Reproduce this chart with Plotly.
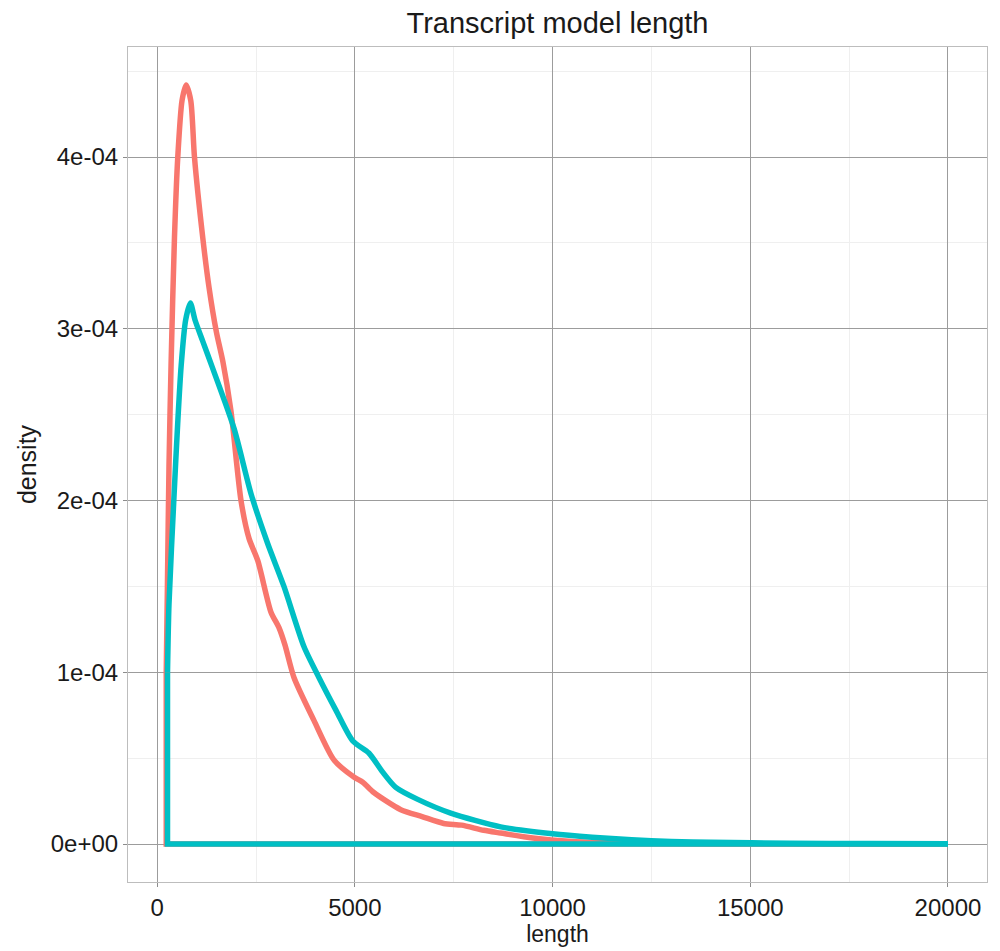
import plotly.graph_objects as go

# Density curves (x = length, y = density in units of 1e-4)
red_x = [230, 260, 300, 354, 438, 522, 630, 732, 850, 944, 1154, 1313, 1500, 1662,
         1868, 2121, 2323, 2545, 2879, 3081, 3232, 3460, 3965, 4470, 4975, 5200, 5480, 6162,
         6700, 7247, 7700, 8258, 8687, 9500, 10500, 11500, 12500, 14000, 16000, 18000, 20000]
red_y = [1.0, 1.5, 2.2, 2.81, 3.53, 4.0, 4.33, 4.42, 4.33, 4.0, 3.53, 3.24, 2.98, 2.81,
         2.52, 2.0, 1.78, 1.65, 1.35, 1.26, 1.16, 0.97, 0.72, 0.49, 0.39, 0.36, 0.30, 0.20,
         0.16, 0.12, 0.11, 0.08, 0.064, 0.035, 0.015, 0.007, 0.004, 0.002, 0.001, 0.0005, 0.0]

teal_x = [262, 300, 430, 520, 606, 720, 840, 960, 1150, 1389, 1944, 2374, 2795, 3207,
          3712, 4091, 4520, 4949, 5354, 5700, 6035, 6591, 7424, 8687, 10000, 11000, 12000,
          13000, 14000, 16000, 18000, 20000]
teal_y = [1.0, 1.4, 2.04, 2.45, 2.78, 3.05, 3.15, 3.05, 2.93, 2.78, 2.42, 2.04, 1.75, 1.50,
          1.15, 0.97, 0.78, 0.60, 0.53, 0.42, 0.33, 0.26, 0.18, 0.10, 0.06, 0.04, 0.025,
          0.015, 0.01, 0.005, 0.003, 0.001]

x_tick_vals = [0, 5000, 10000, 15000, 20000]
x_tick_text = ["0", "5000", "10000", "15000", "20000"]
y_tick_vals = [0, 1e-4, 2e-4, 3e-4, 4e-4]
y_tick_text = ["0e+00", "1e-04", "2e-04", "3e-04", "4e-04"]

RED = "#F8766D"
TEAL = "#00BFC4"
FONT = "Liberation Sans, Arial, sans-serif"
LW = 5.5

fig = go.Figure()


def add_density(xs, ys, color):
    yy = [v * 1e-4 for v in ys]
    # baseline and end verticals of the density outline (as ggplot draws it)
    fig.add_trace(go.Scatter(x=[xs[0], xs[0], xs[-1], xs[-1]], y=[yy[0], 0.0, 0.0, yy[-1]],
                             mode="lines", line=dict(color=color, width=LW),
                             showlegend=False, hoverinfo="skip"))
    fig.add_trace(go.Scatter(x=xs, y=yy, mode="lines",
                             line=dict(color=color, width=LW, shape="spline", smoothing=0.7),
                             showlegend=False, hoverinfo="skip"))


add_density(red_x, red_y, RED)
add_density(teal_x, teal_y, TEAL)

axis_common = dict(
    showgrid=True, gridcolor="#9c9c9c", gridwidth=1.4,
    zeroline=False, showline=True, mirror=True, linecolor="#bdbdbd", linewidth=1.2,
    ticks="outside", ticklen=4, tickcolor="#8c8c8c", tickwidth=1.2,
    tickfont=dict(size=24, color="#1a1a1a", family=FONT),
)

fig.update_layout(
    width=1000, height=951,
    margin=dict(l=128, r=13, t=47, b=69),
    paper_bgcolor="white", plot_bgcolor="white",
    font=dict(family=FONT, color="#1a1a1a"),
    title=dict(text="Transcript model length", x=0.5575, xanchor="center",
               y=1 - 23 / 951, yanchor="middle", font=dict(size=29, family=FONT, color="#1a1a1a")),
    xaxis=dict(range=[-737, 20987], tickvals=x_tick_vals, ticktext=x_tick_text,
               minor=dict(dtick=2500, tick0=2500, showgrid=True, gridcolor="#efefef", gridwidth=1, ticks=""),
               title=dict(text="length", font=dict(size=23, family=FONT), standoff=0),
               **axis_common),
    yaxis=dict(range=[-0.221e-4, 4.641e-4], tickvals=y_tick_vals, ticktext=y_tick_text,
               minor=dict(dtick=0.5e-4, tick0=0.5e-4, showgrid=True, gridcolor="#efefef", gridwidth=1, ticks=""),
               title=dict(text="density", font=dict(size=25, family=FONT), standoff=6),
               **axis_common),
)

fig.write_html("out.html")
